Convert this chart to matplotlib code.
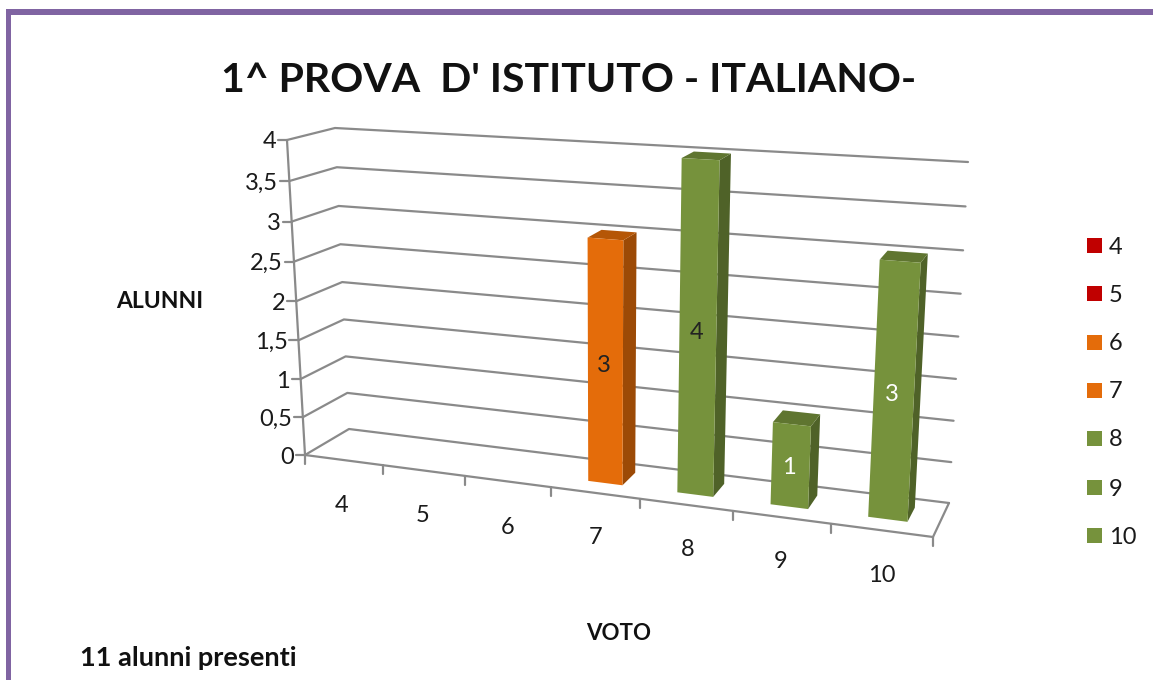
import matplotlib
matplotlib.use("Agg")
import matplotlib.pyplot as plt
from matplotlib.patches import Polygon, Rectangle

# ---- data ----
votes = ["4", "5", "6", "7", "8", "9", "10"]
counts = [0, 0, 0, 3, 4, 1, 3]
value_ticks = [0, 0.5, 1, 1.5, 2, 2.5, 3, 3.5, 4]
value_labels = ["0", "0,5", "1", "1,5", "2", "2,5", "3", "3,5", "4"]
colors = ["#C00000", "#C00000", "#E46C0A", "#E46C0A", "#76923C", "#76923C", "#76923C"]
side_colors = {"#E46C0A": "#9C4A06", "#76923C": "#4F6228", "#C00000": "#800000"}
top_colors = {"#E46C0A": "#B55606", "#76923C": "#5F7530", "#C00000": "#990000"}
label_colors = ["black", "black", "black", "#222222", "#222222", "white", "white"]
title = "1^ PROVA  D' ISTITUTO - ITALIANO-"

plt.rcParams["font.family"] = ["Lato", "DejaVu Sans"]
TEXT = "#1a1a1a"
GRID = "#8a8a8a"

fig = plt.figure(figsize=(11.53, 6.8), dpi=100, facecolor="white")
ax = fig.add_axes([0, 0, 1, 1])
ax.set_xlim(0, 1153)
ax.set_ylim(680, 0)
ax.axis("off")

# Chart-box corners on screen: (category end, value end, depth end)
FL0, BL0, FR0, BR0 = (305, 455), (349, 429), (933, 537), (949, 503)
FL4, BL4, FR4, BR4 = (287, 140), (335, 128), (953, 180), (968, 162)
N = len(votes)
VMAX = max(value_ticks)
PERSP = -0.0206
VPERSP = -0.0116


def project(c, v, d):
    """Map (category position, value, depth 0=front..1=back) to screen."""
    t = c * (1 + N * PERSP) / (N * (1 + PERSP * c))
    w = v * (1 + VMAX * VPERSP) / (VMAX * (1 + VPERSP * v))
    res = []
    for i in (0, 1):
        front0 = FL0[i] + (FR0[i] - FL0[i]) * t
        back0 = BL0[i] + (BR0[i] - BL0[i]) * t
        front4 = FL4[i] + (FR4[i] - FL4[i]) * t
        back4 = BL4[i] + (BR4[i] - BL4[i]) * t
        low = front0 + (back0 - front0) * d
        high = front4 + (back4 - front4) * d
        res.append(low + (high - low) * w)
    return tuple(res)


def line(points, lw=1.6, z=1):
    xs, ys = zip(*points)
    ax.plot(xs, ys, color=GRID, lw=lw, zorder=z, solid_capstyle="round", solid_joinstyle="round")


# frame
ax.add_patch(Rectangle((6, 9), 1153 - 6, 5.5, color="#8064A2", lw=0, zorder=5))
ax.add_patch(Rectangle((6, 9), 5, 680 - 9, color="#8064A2", lw=0, zorder=5))

# walls and gridlines
for v, lab in zip(value_ticks, value_labels):
    a, b, c_ = project(0, v, 0), project(0, v, 1), project(N, v, 1)
    line([a, b, c_])
    line([(a[0] - 9, a[1]), a])
    ax.text(a[0] - 11, a[1] + 2, lab, ha="right", va="center", fontsize=17, color=TEXT)
line([project(0, 0, 0), project(0, VMAX, 0)])
line([project(0, 0, 0), project(N, 0, 0), project(N, 0, 1)])

# category ticks and labels
label_pos = [(342, 505), (423, 516), (508, 528), (596, 538), (688, 550), (781, 562), (882, 575)]
for i in range(N + 1):
    p = project(i, 0, 0)
    line([p, (p[0], p[1] + 9)])
for lab, pos in zip(votes, label_pos):
    ax.text(pos[0], pos[1], lab, ha="center", va="center", fontsize=17, color=TEXT)

# bars
C0, C1, D0, D1 = 0.31, 0.70, 0.33, 0.75
for i, (val, col, lc) in enumerate(zip(counts, colors, label_colors)):
    if val == 0:
        continue
    c0, c1 = i + C0, i + C1
    ax.add_patch(Polygon([project(c1, 0, D0), project(c1, 0, D1), project(c1, val, D1), project(c1, val, D0)],
                         closed=True, fc=side_colors[col], ec="none", zorder=3))
    ax.add_patch(Polygon([project(c0, val, D0), project(c1, val, D0), project(c1, val, D1), project(c0, val, D1)],
                         closed=True, fc=top_colors[col], ec="none", zorder=3))
    ax.add_patch(Polygon([project(c0, 0, D0), project(c1, 0, D0), project(c1, val, D0), project(c0, val, D0)],
                         closed=True, fc=col, ec="none", zorder=4))
    m = project(i + 0.5, val / 2, D0)
    ax.text(m[0] - 1, m[1] + 2, str(val), ha="center", va="center", fontsize=17, color=lc, zorder=6)

# legend
legend_y = [245, 293, 342, 390, 438, 487, 535]
for lab, col, y in zip(votes, colors, legend_y):
    ax.add_patch(Rectangle((1087, y - 7.5), 15, 15, fc=col, ec="none", zorder=4))
    ax.text(1109, y + 2, lab, ha="left", va="center", fontsize=17, color=TEXT)

# texts
ax.text(569, 80, title, ha="center", va="center", fontsize=29.5, fontweight="bold", color="#111111")
ax.text(160, 302, "ALUNNI", ha="center", va="center", fontsize=16.5, fontweight="bold", color="#111111")
ax.text(619, 634, "VOTO", ha="center", va="center", fontsize=16, fontweight="bold", color="#111111")
ax.text(80, 658, "11 alunni presenti", ha="left", va="center", fontsize=19.5, fontweight="bold", color="#111111")

fig.savefig("out.png", dpi=100, facecolor="white")
